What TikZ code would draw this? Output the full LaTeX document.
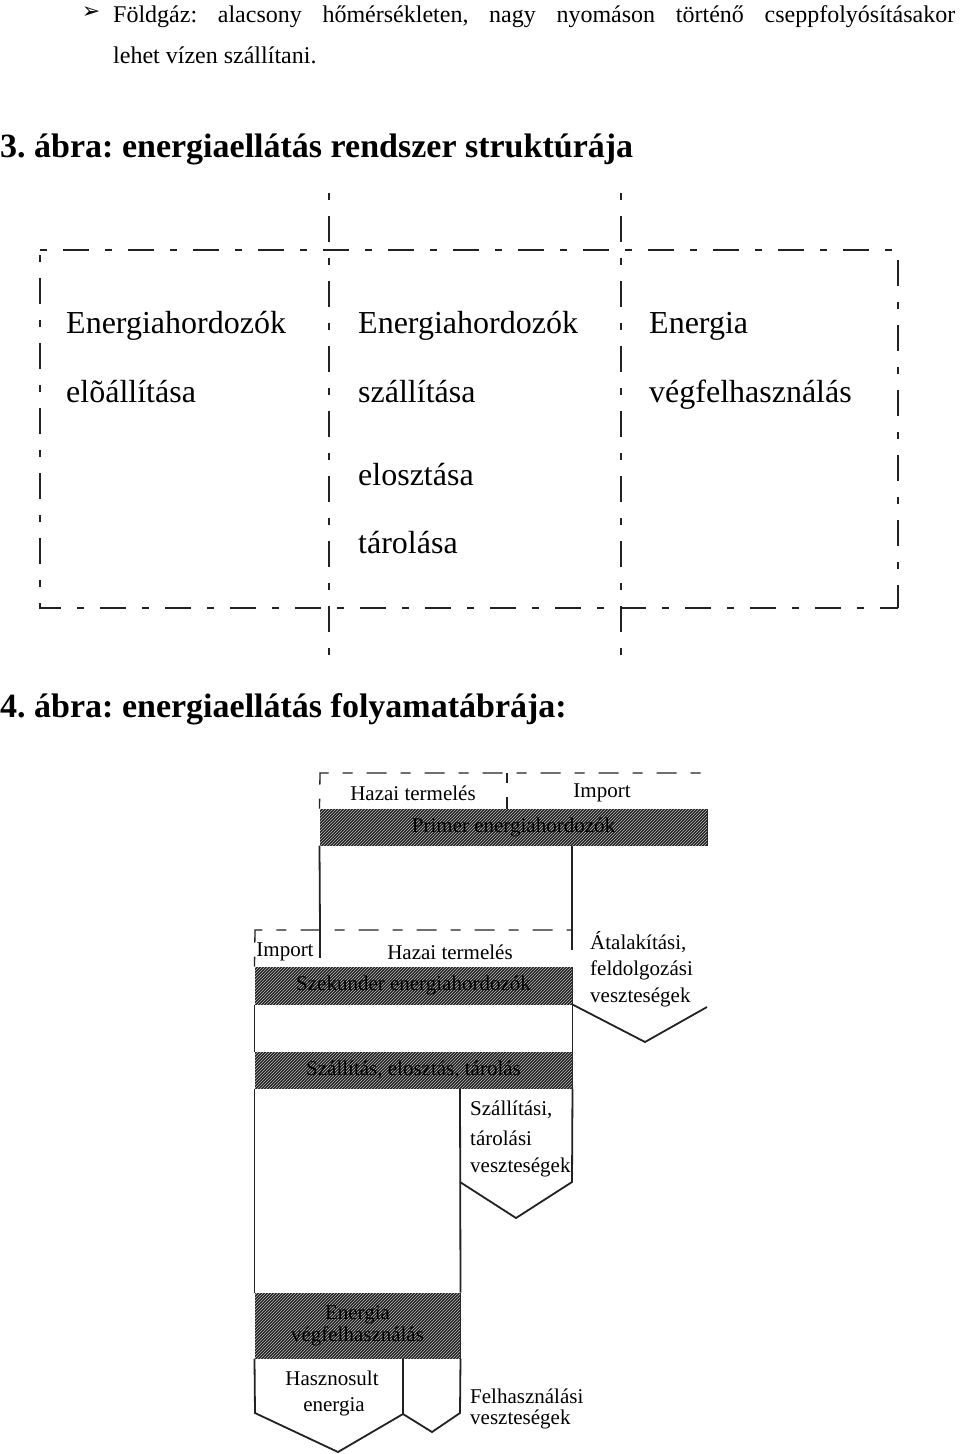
\documentclass[tikz,border=0pt]{standalone}
\usepackage{fontspec}
\setmainfont{Liberation Serif}
\newfontfamily\symfont{DejaVu Sans}
\usetikzlibrary{patterns,positioning}
\definecolor{inkx}{HTML}{222222}
\frenchspacing
\tikzset{
  txt/.style={inner sep=0pt,anchor=base west,font=\fontsize{24}{28}\selectfont},
  head/.style={inner sep=0pt,anchor=base west,font=\fontsize{34}{40}\selectfont\bfseries},
  big/.style={inner sep=0pt,anchor=base west,font=\fontsize{32}{36}\selectfont},
  sml/.style={inner sep=0pt,font=\fontsize{21}{24}\selectfont},
  dashln/.style={line width=1.6pt,inkx,dash pattern=on 7pt off 16pt on 26pt off 16pt},
  fdash/.style={line width=1.3pt,inkx,dash pattern=on 10pt off 14pt on 20pt off 14pt},
  ln/.style={line width=1.8pt,inkx},
  band/.style={draw=inkx,line width=1pt,fill=black!88,
    postaction={pattern=north east lines,pattern color=white!75!black},
    inner sep=0pt,align=center,font=\fontsize{21}{22}\selectfont}
}
\begin{document}
\begin{tikzpicture}[x=1pt,y=-1pt]
\useasboundingbox (0,0) rectangle (960,1454);
\fill[white] (0,0) rectangle (960,1454);
% text above
\node[inner sep=0pt,font=\symfont\fontsize{22}{24}\selectfont] (bul) at (91,13) {➢};
\node[txt] (line1) at (113,22) {\makebox[842pt][s]{Földgáz: alacsony hőmérsékleten, nagy nyomáson történő cseppfolyósításakor}};
\node[txt] (line2) at (113,63) {lehet vízen szállítani.};
\node[head] (cap3) at (0,157) {3. ábra: energiaellátás rendszer struktúrája};
% structure
\draw[dashln] (40,250) -- (898,250) -- (898,608);
\draw[dashln] (40,255) -- (40,608) -- (898,608);
\draw[dashln] (329,193) -- (329,665);
\draw[dashln] (621,193) -- (621,665);
\node[big] (prod1) at (66,333) {Energiahordozók};
\node[big] (prod2) at (66,402) {elõállítása};
\node[big] (trans1) at (358,333) {Energiahordozók};
\node[big] (trans2) at (358,402) {szállítása};
\node[big] (trans3) at (358,485) {elosztása};
\node[big] (trans4) at (358,553) {tárolása};
\node[big] (use1) at (649,333) {Energia};
\node[big] (use2) at (649,402) {végfelhasználás};
\node[head] (cap4) at (0,717) {4. ábra: energiaellátás folyamatábrája:};
% flow chart
\node[band,minimum width=387pt,minimum height=36pt] (primer) at (513.5,827) {Primer energiahordozók};
\node[band,minimum width=317pt,minimum height=37pt] (sekunder) at (413.5,985.5) {Szekunder energiahordozók};
\node[band,minimum width=317pt,minimum height=36pt] (szall) at (413.5,1070) {Szállítás, elosztás, tárolás};
\node[band,minimum width=205pt,minimum height=65pt] (vegf) at (357.5,1325.5) {Energia\\végfelhasználás};
\coordinate (t1l) at (320,773);
\coordinate (t1r) at (707,773);
\coordinate (t1m) at (507,773);
\draw[fdash] (primer.north west) -- (t1l) -- (t1r);
\draw[fdash] (t1m) -- (t1m |- primer.north);
\node[sml] (hazai1) at (413,793) {Hazai termelés};
\node[sml] (imp1) at (602,793) {Import};
\coordinate (t2l) at (255,930);
\coordinate (t2r) at (572,930);
\coordinate (t2m) at (320,930);
\draw[ln] (primer.south west) -- (t2m);
\draw[ln] (t2r |- primer.south) -- (t2r);
\draw[fdash] (sekunder.north west) -- (t2l) -- (t2r);
\draw[ln] (t2r) -- ++(0,20);
\draw[ln] (t2m) -- ++(0,28);
\node[sml] (imp2) at (285,952) {Import};
\node[sml] (hazai2) at (450,952) {Hazai termelés};
% losses
\coordinate (v1) at (645,1042);
\draw[ln] (sekunder.south east) -- (v1) -- (707,1007);
\node[sml,anchor=west] (at1) at (590,942) {Átalakítási,};
\node[sml,anchor=west] (at2) at (590,970) {feldolgozási};
\node[sml,anchor=west] (at3) at (590,997) {veszteségek};
\draw[ln] (sekunder.south west) -- (szall.north west);
\draw[ln] (sekunder.south east) -- (szall.north east);
\coordinate (s1) at (460,1182);
\coordinate (v2) at (516,1218);
\draw[ln] (szall.south west) -- (vegf.north west);
\draw[ln] (s1 |- szall.south) -- (vegf.north east);
\draw[ln] (szall.south east) -- (572,1182) -- (v2) -- (s1);
\node[sml,anchor=west] (sz1) at (470,1110) {Szállítási,};
\node[sml,anchor=west] (sz2) at (470,1138) {tárolási};
\node[sml,anchor=west] (sz3) at (470,1167) {veszteségek};
\coordinate (d1) at (403,1414);
\coordinate (v3) at (338,1452);
\coordinate (v4) at (432,1432);
\draw[ln] (vegf.south west) -- (255,1413) -- (v3) -- (d1) -- (v4) -- (460,1413) -- (vegf.south east);
\draw[ln] (d1) -- (d1 |- vegf.south);
\node[sml] (hasz1) at (332,1378) {Hasznosult};
\node[sml] (hasz2) at (334,1407) {energia};
\node[sml,anchor=base west] (fel1) at (470,1403) {Felhasználási};
\node[sml,anchor=base west] (fel2) at (470,1424) {veszteségek};
\end{tikzpicture}
\end{document}
